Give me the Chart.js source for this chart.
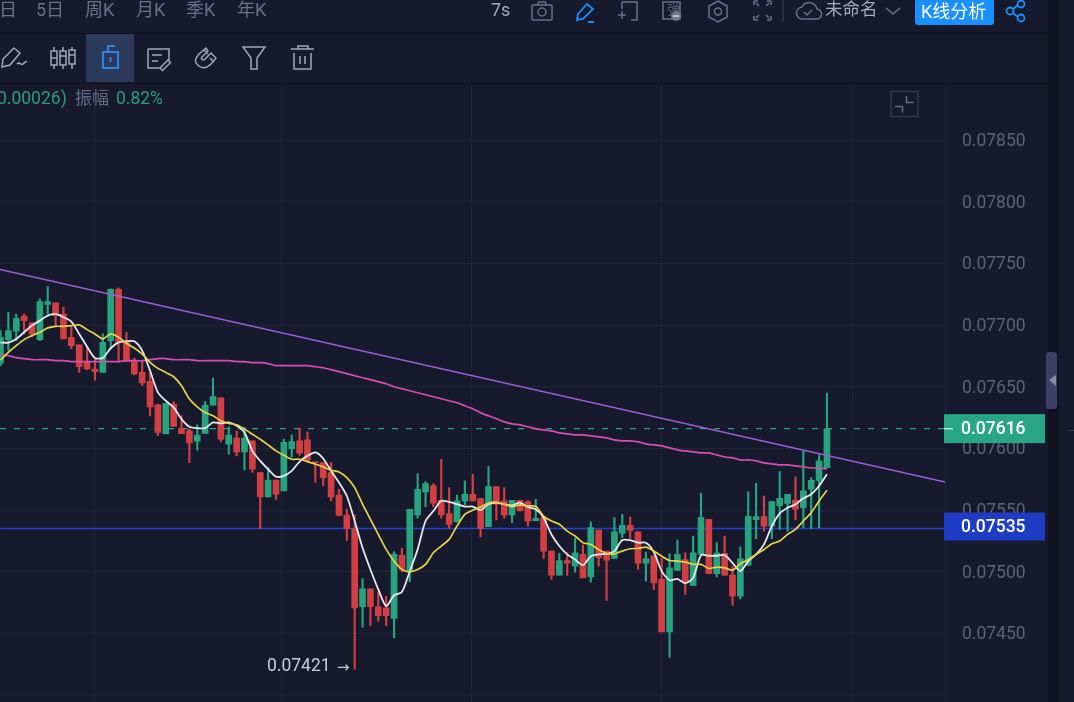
<!DOCTYPE html>
<html><head><meta charset="utf-8">
<style>
html,body{margin:0;padding:0;background:#161a2c;width:1074px;height:702px;overflow:hidden;font-family:Roboto,"Noto Sans CJK SC",sans-serif}
#wrap{position:absolute;left:0;top:0;width:1074px;height:702px;overflow:hidden}
canvas{position:absolute;left:0;top:0}
.t{position:absolute;white-space:nowrap;line-height:1;z-index:3}
.nav{color:#6b7090;font-size:18px;top:1px}
.ic{position:absolute;z-index:3;overflow:visible}
.ln{position:absolute;background:#0e1120;z-index:2}
</style></head><body>
<div id="wrap">
<canvas id="c" width="1074" height="731"></canvas>
<div class="ln" style="left:0;top:33px;width:1048px;height:1px"></div>
<div class="ln" style="left:0;top:83px;width:1048px;height:1px"></div>
<div class="ln" style="left:1048px;top:0;width:11px;height:702px;background:#10131f"></div>
<div class="ln" style="left:1068px;top:430px;width:6px;height:1px;background:#3c4052"></div>
<div class="t nav" style="left:-1px">日</div>
<div class="t nav" style="left:36px">5日</div>
<div class="t nav" style="left:85px">周K</div>
<div class="t nav" style="left:136px">月K</div>
<div class="t nav" style="left:186px">季K</div>
<div class="t nav" style="left:237px">年K</div>
<div class="t" style="left:491px;top:1px;font-size:18px;color:#a5a9bf">7s</div>
<div class="t" style="left:825px;top:1px;font-size:17.5px;color:#a5a9bf">未命名</div>
<div style="position:absolute;left:915px;top:0;width:79px;height:25px;background:#1890ff;border-radius:0 0 3px 3px;z-index:3"></div>
<div class="t" style="left:921px;top:3px;font-size:18px;color:#fff">K线分析</div>
<div class="t" style="left:-3px;top:90px;font-size:17.5px;color:#2a9d7f">0.00026)</div>
<div class="t" style="left:75px;top:90px;font-size:17px;color:#666b85">振幅</div>
<div class="t" style="left:116px;top:90px;font-size:17.5px;color:#2a9d7f">0.82%</div>
<div class="t" style="left:667px;top:3px;font-size:13px;color:#5b6078">弹</div>
<div style="position:absolute;left:86px;top:34px;width:48px;height:48px;background:#2c3a5c;z-index:1"></div>
<div style="position:absolute;left:1046px;top:352px;width:11px;height:57px;background:#3b4066;border-radius:3px;z-index:3"></div>
<svg class="ic" style="left:0;top:0" width="1074" height="125" viewBox="0 0 1074 125" fill="none" stroke-width="1.5">
 <g stroke="#6b7090">
  <rect x="532" y="5" width="20" height="15" rx="1"/><circle cx="542" cy="12" r="4"/><path d="M537 5l2-3h6l2 3"/>
  <path d="M622 2h15v18h-6M622 2v7M618 15h8M622 11v8"/>
  <rect x="663" y="2" width="17" height="17"/>
  <path d="M718 1l9 5v11l-9 5-9-5V6z"/><circle cx="718" cy="11.500" r="3.500"/>
  <path d="M754 1h4M754 1v4M771 1h-4M771 1v4M754 20h4M754 20v-4M771 20h-4M771 20v-4M756 3l3 3M769 3l-3 3M756 18l3-3M769 18l-3-3"/>
  <path d="M783 0v22" stroke="#333750"/>
  <path d="M803 19a6 6 0 0 1-1-12 8 8 0 0 1 15 2 5 5 0 0 1-1 10z"/><path d="M804 12l3 3 5-5"/>
  <path d="M886 8l7 6 7-6"/>
  <rect x="891" y="91.500" width="27" height="25" stroke="#333750"/>
  <path d="M906.500 96v6.500h7M895 106.500h7.500v6" stroke="#666b85"/>
 </g>
 <circle cx="676" cy="16" r="5" fill="#71758c"/><path d="M673 16h6" stroke="#ddd"/>
 <g stroke="#1890ff" stroke-width="1.800">
  <path d="M587 4l6 5-10 10-6 1 1-6zM588 22h6"/>
  <circle cx="1021" cy="4" r="3.500"/><circle cx="1010" cy="11" r="3.500"/><circle cx="1021" cy="18" r="3.500"/><path d="M1013 9l5-4M1013 13l5 4"/>
 </g>
 <g stroke="#a3a7be">
  <path d="M14 48l6 5-10 12-8 2 1-8zM17 64c3-3 4 2 6 0s3-2 4-3"/>
  <path d="M51 51h6v14h-6zM60 51h6v14h-6zM69 50h6v14h-6zM54 47v4M54 65v4M63 47v4M63 65v4M72 47v3M72 64v5M51 58h6M60 56h6M69 55h6"/>
  <path d="M148 49h21v11M148 49v19h12M152 55h10M152 61h6M160 68l8-8 2.500 2.500-8 8z"/>
  <path d="M206 48l-7 6c-6 7-3 10 0 12 4 3 8 2 12-2l5-6-5-5-6 6c-2 2-5 0-3-2l6-6zM208 54l-4-4M214 62l-4-4" />
  <path d="M243 47h22l-8 11v11h-6v-11z"/>
  <path d="M291 49h23M298 49v-3h10v3M294 53v16h17v-16M300 56v8M305 56v8"/>
 </g>
 <g stroke="#2a84e8" stroke-width="2">
  <path d="M103 52h15v16h-15zM108 52v-6h7M110.500 57v5"/>
 </g>
 <path d="M1056 375l-7 5 7 6z" fill="#8a8fa8" stroke="none"/>
</svg>
</div>
<script src="https://cdn.jsdelivr.net/npm/chart.js@4/dist/chart.umd.min.js"></script>
<script>
const opens=[0.0766900,0.076882,0.076950,0.077072,0.077018,0.076882,0.077167,0.077180,0.077090,0.076901,
0.076839,0.076698,0.076644,0.076616,0.076874,0.077289,0.076860,0.076711,0.076616,0.076543,
0.076354,0.076120,0.076359,0.076164,0.076142,0.076058,0.076121,0.076351,0.076410,0.076034,
0.076083,0.075971,0.076061,0.075804,0.075606,0.075742,0.075655,0.075996,0.076061,0.076070,
0.075891,0.075885,0.075804,0.075622,0.075460,0.075349,0.074717,0.074861,0.074715,0.074706,
0.074620,0.075132,0.075004,0.075460,0.075647,0.075696,0.075579,0.075471,0.075403,0.075574,
0.075628,0.075593,0.075365,0.075690,0.075574,0.075460,0.075579,0.075568,0.075414,0.075438,
0.075167,0.074972,0.075091,0.075045,0.075140,0.074958,0.075338,0.075167,0.075107,0.075313,
0.075376,0.075324,0.075069,0.075129,0.074937,0.074511,0.075010,0.075099,0.074888,0.075140,
0.075424,0.074983,0.075148,0.074972,0.074801,0.075053,0.075422,0.075446,0.075370,0.075533,
0.075554,0.075579,0.075519,0.075669,0.075741,0.075844];
const closes=[0.076901,0.076955,0.077055,0.077036,0.076928,0.077191,0.077191,0.077077,0.076887,0.076833,
0.076665,0.076644,0.076622,0.076860,0.077289,0.076860,0.076706,0.076603,0.076530,0.076337,
0.076129,0.076364,0.076177,0.076120,0.076045,0.076107,0.076351,0.076421,0.076074,0.076107,
0.075971,0.076083,0.075831,0.075606,0.075742,0.075628,0.076048,0.076056,0.075961,0.075904,
0.075885,0.075763,0.075606,0.075457,0.075349,0.074706,0.074861,0.074717,0.074644,0.074644,
0.075140,0.075018,0.075506,0.075668,0.075715,0.075555,0.075460,0.075384,0.075574,0.075628,
0.075574,0.075349,0.075690,0.075546,0.075460,0.075579,0.075492,0.075411,0.075433,0.075167,
0.074972,0.075091,0.075069,0.075153,0.074950,0.075357,0.075113,0.075094,0.075324,0.075376,
0.075335,0.075069,0.075105,0.074909,0.074511,0.075031,0.075140,0.074923,0.075153,0.075438,
0.074983,0.075151,0.074972,0.074801,0.075105,0.075449,0.075446,0.075370,0.075568,0.075595,
0.075628,0.075506,0.075655,0.075741,0.075899,0.076160];
const highs=[0.076955,0.077104,0.077090,0.077090,0.077018,0.077213,0.077313,0.077180,0.077145,0.076996,
0.076839,0.076825,0.076725,0.076928,0.077294,0.077302,0.076942,0.076733,0.076706,0.076616,
0.076359,0.076364,0.076380,0.076264,0.076156,0.076191,0.076380,0.076570,0.076410,0.076175,
0.076142,0.076169,0.076061,0.075804,0.075845,0.075742,0.076075,0.076110,0.076164,0.076135,
0.075891,0.075885,0.075885,0.075668,0.075506,0.075460,0.074945,0.074861,0.074834,0.074801,
0.075162,0.075189,0.075506,0.075796,0.075731,0.075715,0.075912,0.075682,0.075622,0.075736,
0.075790,0.075593,0.075853,0.075690,0.075682,0.075579,0.075579,0.075574,0.075587,0.075438,
0.075167,0.075148,0.075153,0.075270,0.075216,0.075405,0.075338,0.075167,0.075438,0.075465,
0.075443,0.075324,0.075159,0.075129,0.075113,0.075145,0.075256,0.075153,0.075289,0.075636,
0.075424,0.075235,0.075289,0.075045,0.075199,0.075647,0.075717,0.075614,0.075568,0.075812,
0.075628,0.075769,0.075980,0.075763,0.075947,0.076449];
const lows=[0.076670,0.076793,0.076874,0.076928,0.076901,0.076874,0.077090,0.076996,0.076887,0.076806,
0.076616,0.076638,0.076554,0.076616,0.076806,0.076698,0.076706,0.076595,0.076508,0.076264,
0.076102,0.076120,0.076177,0.076120,0.075885,0.075985,0.076121,0.076351,0.076053,0.075953,
0.075939,0.075825,0.075804,0.075349,0.075606,0.075587,0.075655,0.075931,0.075945,0.075885,
0.075723,0.075696,0.075574,0.075452,0.075254,0.074210,0.074549,0.074565,0.074598,0.074563,
0.074462,0.074999,0.074918,0.075433,0.075528,0.075525,0.075433,0.075351,0.075403,0.075541,
0.075574,0.075281,0.075365,0.075419,0.075433,0.075397,0.075492,0.075370,0.075414,0.075107,
0.074937,0.074972,0.074969,0.074996,0.074950,0.074915,0.075045,0.074766,0.075107,0.075275,
0.075270,0.075018,0.074923,0.074855,0.074511,0.074305,0.075010,0.074815,0.074888,0.075140,
0.074983,0.074958,0.074972,0.074728,0.074779,0.075053,0.075267,0.075329,0.075267,0.075343,
0.075329,0.075419,0.075357,0.075349,0.075357,0.075844];
const maWhite=[0.076858,0.076858,0.076887,0.076942,0.076996,0.077036,0.077077,0.077088,0.077064,0.077028,
0.076928,0.076825,0.076733,0.076733,0.076812,0.076860,0.076868,0.076868,0.076793,0.076630,
0.076454,0.076386,0.076332,0.076237,0.076175,0.076164,0.076164,0.076210,0.076202,0.076210,
0.076183,0.076129,0.075980,0.075898,0.075831,0.075771,0.075777,0.075817,0.075893,0.075939,
0.075967,0.075918,0.075817,0.075723,0.075614,0.075411,0.075194,0.075018,0.074856,0.074720,
0.074809,0.074836,0.075004,0.075181,0.075411,0.075492,0.075574,0.075566,0.075547,0.075528,
0.075528,0.075500,0.075547,0.075560,0.075547,0.075538,0.075560,0.075525,0.075506,0.075438,
0.075302,0.075208,0.075140,0.075099,0.075053,0.075126,0.075140,0.075145,0.075167,0.075256,
0.075256,0.075235,0.075235,0.075161,0.075004,0.074931,0.074942,0.074907,0.074950,0.075134,
0.075129,0.075129,0.075134,0.075072,0.075004,0.075086,0.075140,0.075221,0.075370,0.075473,
0.075519,0.075546,0.075595,0.075628,0.075695,0.075790];
const maYellow=[0.076717,0.076779,0.076833,0.076882,0.076915,0.076942,0.076977,0.076990,0.076990,0.076996,
0.077001,0.076963,0.076928,0.076887,0.076928,0.076901,0.076852,0.076814,0.076765,0.076698,
0.076649,0.076616,0.076581,0.076508,0.076400,0.076337,0.076291,0.076264,0.076223,0.076202,
0.076191,0.076156,0.076115,0.076074,0.076028,0.075980,0.075944,0.075912,0.075912,0.075893,
0.075872,0.075850,0.075823,0.075809,0.075763,0.075682,0.075547,0.075425,0.075303,0.075181,
0.075086,0.075018,0.074999,0.075018,0.075059,0.075154,0.075208,0.075262,0.075370,0.075465,
0.075498,0.075525,0.075557,0.075563,0.075547,0.075528,0.075541,0.075533,0.075530,0.075451,
0.075411,0.075384,0.075329,0.075289,0.075235,0.075221,0.075180,0.075148,0.075145,0.075167,
0.075186,0.075189,0.075199,0.075167,0.075126,0.075091,0.075086,0.075077,0.075059,0.075059,
0.075026,0.075037,0.075031,0.075012,0.075064,0.075099,0.075140,0.075180,0.075226,0.075248,
0.075302,0.075343,0.075411,0.075479,0.075573,0.075660];
const maMagenta=[0.076760,0.076752,0.076736,0.076728,0.076719,0.076719,0.076719,0.076711,0.076711,0.076703,
0.076703,0.076703,0.076703,0.076703,0.076703,0.076703,0.076711,0.076711,0.076711,0.076719,
0.076728,0.076728,0.076719,0.076719,0.076719,0.076711,0.076711,0.076711,0.076711,0.076711,
0.076703,0.076703,0.076695,0.076695,0.076687,0.076671,0.076671,0.076671,0.076671,0.076671,
0.076662,0.076654,0.076638,0.076622,0.076606,0.076589,0.076573,0.076557,0.076541,0.076524,
0.076500,0.076484,0.076467,0.076451,0.076435,0.076419,0.076402,0.076386,0.076370,0.076345,
0.076321,0.076288,0.076264,0.076240,0.076215,0.076199,0.076191,0.076175,0.076158,0.076150,
0.076142,0.076126,0.076118,0.076110,0.076110,0.076102,0.076093,0.076085,0.076069,0.076061,
0.076061,0.076053,0.076037,0.076028,0.076020,0.076004,0.075988,0.075979,0.075971,0.075963,
0.075963,0.075947,0.075930,0.075923,0.075906,0.075906,0.075898,0.075882,0.075874,0.075866,
0.075866,0.075858,0.075850,0.075841,0.075841,0.075833];
const trendIdx=[-0.06,120];
const trendPrice=[0.077451,0.075728];
const gridIdx=[11.9,35.7,59.8,83.95,108.3];
const yTicks=[0.074,0.0745,0.075,0.0755,0.076,0.0765,0.077,0.0775,0.078,0.0785];
const lastPrice=0.07616, linePrice=0.07535, lowPrice=0.07421;
const UP='#27a47f',DN='#d23f42';
const idx=opens.map((_,i)=>i);
const col=idx.map(i=>closes[i]>=opens[i]?UP:DN);
const xyz=a=>a.map((v,i)=>({x:i,y:v}));
const tags={id:'tags',afterDraw(ch){
  const c=ch.ctx,y=ch.scales.y;
  const tag=(v,bg,top,h)=>{const p=y.getPixelForValue(v);c.fillStyle=bg;c.fillRect(944,p-top,101,h);
    c.fillStyle='#fff';c.font='500 17.5px Roboto';c.textAlign='left';c.textBaseline='middle';c.fillText(v.toFixed(5),961,p-top+h/2+1);};
  tag(lastPrice,'#27a584',14.5,29);tag(linePrice,'#1f3cc4',16,28);
  const py=y.getPixelForValue(lastPrice);c.fillStyle='#dfe';c.fillRect(944,py-.5,9,1.2);
  c.fillStyle='#c9cde0';c.font='17.5px Roboto';c.textAlign='left';c.textBaseline='middle';
  c.fillText(lowPrice.toFixed(5),267,y.getPixelForValue(lowPrice)-2);
  c.font='15px "DejaVu Sans"';
  c.fillText('→',337,y.getPixelForValue(lowPrice)-0.5);
}};
new Chart(document.getElementById('c'),{
 data:{datasets:[
  {type:'line',data:xyz(maMagenta),borderColor:'#d54db4',borderWidth:1.7,pointRadius:0,tension:0.2,order:3},
  {type:'line',data:trendIdx.map((v,i)=>({x:v,y:trendPrice[i]})),borderColor:'#9a5fd8',borderWidth:1.5,pointRadius:0,order:3},
  {type:'line',data:trendIdx.map(v=>({x:v,y:linePrice})),borderColor:'#2440cc',borderWidth:1.5,pointRadius:0,order:6},
  {type:'line',data:trendIdx.map(v=>({x:v,y:lastPrice})),borderColor:'#27a584',borderWidth:1.3,borderDash:[6,8],pointRadius:0,order:6},
  {type:'bar',data:idx.map(i=>({x:i,y:[lows[i],highs[i]]})),backgroundColor:col,barThickness:1.5,grouped:false,order:5},
  {type:'bar',data:idx.map(i=>({x:i,y:[opens[i],closes[i]]})),backgroundColor:col,barThickness:6,grouped:false,order:4},
  {type:'line',data:xyz(maWhite),borderColor:'#e8e8ee',borderWidth:1.8,pointRadius:0,tension:0.25,order:2},
  {type:'line',data:xyz(maYellow),borderColor:'#e6d544',borderWidth:1.7,pointRadius:0,tension:0.25,order:1}
 ]},
 plugins:[tags],
 options:{responsive:false,maintainAspectRatio:false,animation:false,devicePixelRatio:1,
  layout:{padding:{top:83,left:0,right:0,bottom:0}},
  plugins:{legend:{display:false},tooltip:{enabled:false}},
  scales:{
   x:{type:'linear',min:-0.064,max:120,offset:false,
      grid:{color:'#1f2438',lineWidth:1,drawTicks:false,offset:false},border:{display:false},
      ticks:{display:false},afterBuildTicks(s){s.ticks=gridIdx.map(v=>({value:v}));},
      afterFit(s){s.height=0;}},
   y:{type:'linear',position:'right',min:0.073931,max:0.078963,
      grid:{color:'#1f2438',lineWidth:1,drawTicks:false},border:{display:true,color:'#1f2438'},
      afterBuildTicks(s){s.ticks=yTicks.map(v=>({value:v}));},
      ticks:{padding:17,labelOffset:1.5,color:'#5d6278',font:{family:'Roboto',size:17.5},autoSkip:false,
        callback:v=>v<0.0744?'':v.toFixed(5)},
      afterFit(s){s.width=129;}}
  }}
});
</script>
</body></html>
